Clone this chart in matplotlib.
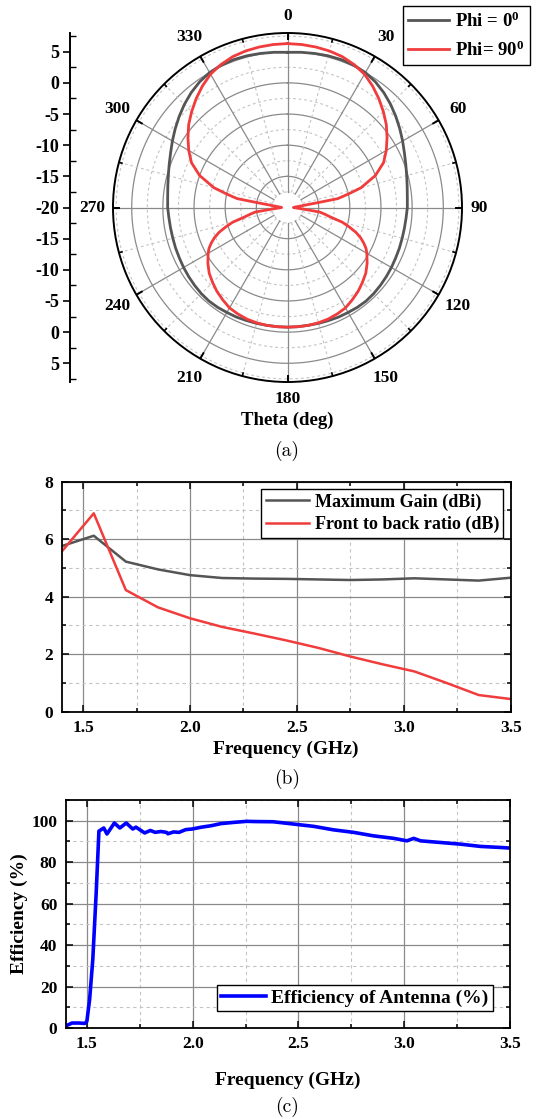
import numpy as np
import matplotlib
matplotlib.use('Agg')
import matplotlib.pyplot as plt
from matplotlib.ticker import MultipleLocator, FixedLocator


# radiation pattern, theta 0..180 deg (the other half is the mirror image)
theta_phi0 = [0, 5, 10, 15, 20, 25, 30, 35, 40, 45, 50, 55, 60, 65, 70, 75, 80, 85,
              90, 95, 100, 105, 110, 115, 120, 125, 130, 135, 140, 145, 150, 155,
              160, 165, 170, 175, 180]
phi0_db = [4.9, 5.0, 5.1, 5.2, 5.25, 5.2, 5.0, 4.6, 4.05, 3.4, 2.7, 2.0, 1.33, 0.7, 0.2,
           -0.2, -0.5, -0.7, -0.77, -0.9, -0.95, -0.95, -0.9, -0.85, -0.75, -0.65,
           -0.55, -0.45, -0.4, -0.45, -0.55, -0.6, -0.7, -0.75, -0.8, -0.8, -0.8]

theta_phi90 = [0, 5, 10, 15, 20, 25, 30, 35, 40, 45, 50, 55, 60, 65, 70, 75, 77.5, 80,
               81, 82.5, 85, 87.5, 90, 92.5, 95, 96.5, 98, 100, 102.5, 105, 107.5, 110,
               112.5, 115, 117.5, 120, 125, 130, 135, 140, 145, 150, 155, 160, 165,
               170, 175, 180]
phi90_db = [6.3, 6.25, 6.15, 6.0, 5.75, 5.3, 4.7, 3.8, 2.8, 1.75, 0.7, -0.5, -1.7, -3.0,
            -5.0, -7.8, -10.0, -11.8, -15.3, -17.3, -18.4, -18.9, -19.05, -18.75, -18.0,
            -17.0, -14.8, -14.0, -12.9, -10.9, -9.6, -8.3, -7.3, -6.5, -5.8, -5.3, -4.4,
            -3.6, -3.0, -2.4, -1.9, -1.4, -1.15, -0.95, -0.85, -0.8, -0.8, -0.8]

# gain and front-to-back ratio vs frequency
freq_b = [1.4, 1.55, 1.7, 1.85, 2.0, 2.15, 2.3, 2.45, 2.6, 2.75, 2.9, 3.05, 3.2, 3.35, 3.5]
max_gain = [5.76, 6.12, 5.22, 4.95, 4.75, 4.65, 4.63, 4.62, 4.6, 4.58, 4.6, 4.64, 4.6,
            4.56, 4.66]
fbr = [5.57, 6.9, 4.23, 3.63, 3.25, 2.95, 2.72, 2.48, 2.22, 1.92, 1.65, 1.4, 1.0, 0.58,
       0.44]

# radiation efficiency vs frequency
freq_c = [1.40, 1.43, 1.465, 1.49, 1.50, 1.513, 1.528, 1.544, 1.557, 1.58, 1.595, 1.63,
          1.656, 1.686, 1.717, 1.732, 1.773, 1.80, 1.823, 1.85, 1.876, 1.883, 1.91,
          1.936, 1.967, 1.997, 2.042, 2.088, 2.133, 2.194, 2.255, 2.30, 2.381, 2.476,
          2.571, 2.666, 2.76, 2.855, 2.95, 3.013, 3.045, 3.077, 3.171, 3.266, 3.361,
          3.456, 3.50]
efficiency = [1.0, 2.4, 2.4, 2.2, 3.2, 13.7, 33, 65, 95, 96.5, 93.6, 98.9, 96.5, 98.9,
              96, 96.9, 94.1, 95.3, 94.4, 94.8, 94.4, 93.7, 94.6, 94.4, 95.7, 96, 96.9,
              97.6, 98.6, 99.2, 99.7, 99.6, 99.5, 98.4, 97.3, 95.6, 94.4, 92.7, 91.5,
              90.3, 91.5, 90.3, 89.5, 88.7, 87.6, 87.1, 86.8]

W, H = 545, 1119
GRID_SOLID = '#8a8a8a'
GRID_DASH = '#c4c4c4'
DARK = '#555555'
RED = '#f03c3c'


def fig_rect(left, top, right, bottom):
    # pixel box -> figure fraction rect
    return [left / W, 1 - bottom / H, (right - left) / W, (bottom - top) / H]


def mirror(theta_deg, r_db):
    th = list(theta_deg)
    r = list(r_db)
    th_full = th + [360 - t for t in th[-2::-1]]
    r_full = r + r[-2::-1]
    return np.deg2rad(th_full), np.array(r_full)


def polar_panel(fig):
    rmin, rmax = -20, 8
    ax = fig.add_axes(fig_rect(113, 33, 462, 382), projection='polar')
    ax.set_theta_zero_location('N')
    ax.set_theta_direction(-1)
    ax.set_rlim(rmin, rmax)
    ax.grid(False)
    ax.set_xticks([])
    ax.set_yticks([])
    ax.spines['polar'].set_linewidth(1.4)

    ring = np.linspace(0, 2 * np.pi, 361)
    for r in np.arange(-17.5, 8, 2.5):
        if r % 5 == 0:
            ax.plot(ring, np.full_like(ring, r), color=GRID_SOLID, lw=0.9, zorder=1)
        else:
            ax.plot(ring, np.full_like(ring, r), color=GRID_DASH, lw=0.8,
                    ls=(0, (2.5, 2.5)), zorder=1)
    for a in range(0, 360, 15):
        t = np.deg2rad(a)
        if a % 30 == 0:
            ax.plot([t, t], [-17.5, rmax], color=GRID_SOLID, lw=0.9, zorder=1)
            ax.plot([t, t], [rmax - 1.0, rmax], color='black', lw=1.4, zorder=3)
            # labels on the axes sit a little closer than the diagonal ones
            if a in (0, 90, 180):
                r_lab = 10.7
            elif a == 270:
                r_lab = 11.4
            else:
                r_lab = 11.6
            ax.text(t, r_lab, str(a), ha='center', va='center', fontsize=12.5,
                    fontweight='bold')
        else:
            ax.plot([t, t], [-17.5, rmax], color=GRID_DASH, lw=0.8,
                    ls=(0, (2.5, 2.5)), zorder=1)
            ax.plot([t, t], [rmax - 0.5, rmax], color='black', lw=1.2, zorder=3)

    th0, r0 = mirror(theta_phi0, phi0_db)
    th90, r90 = mirror(theta_phi90, phi90_db)
    ax.plot(th0, r0, color=DARK, lw=2.0, label='Phi = 0$^{0}$', zorder=4)
    ax.plot(th90, r90, color=RED, lw=2.0, label='Phi= 90$^{0}$', zorder=5)

    leg = fig.legend(loc='upper right', bbox_to_anchor=(530 / W, 1 - 6 / H),
                     frameon=True, fancybox=False, edgecolor='black', framealpha=1,
                     fontsize=13.5, handlelength=2.2, borderpad=0.3, labelspacing=0.5,
                     handletextpad=0.3, borderaxespad=0)
    leg.get_frame().set_linewidth(1.0)

    # linear dB scale next to the polar plot
    axl = fig.add_axes([70 / W, 1 - 382 / H, 0.0001, 349 / H])
    axl.set_ylim(-(rmax - rmin), rmax - rmin)
    for s in ['top', 'right', 'bottom']:
        axl.spines[s].set_visible(False)
    axl.spines['left'].set_linewidth(1.4)
    axl.set_xticks([])
    major = np.arange(-25, 26, 5)
    axl.yaxis.set_major_locator(FixedLocator(major))
    axl.yaxis.set_minor_locator(MultipleLocator(2.5))
    axl.set_yticklabels([str(int(abs(v) + rmin)) for v in major])
    axl.tick_params(axis='y', which='major', direction='out', length=5, width=1.2,
                    labelsize=13, pad=3)
    axl.tick_params(axis='y', which='minor', direction='in', length=4, width=1.0)

    fig.text(287 / W, 1 - 420 / H, 'Theta (deg)', ha='center', va='center',
             fontsize=13.5, fontweight='bold')
    fig.text(287 / W, 1 - 451 / H, '(a)', ha='center', va='center', fontsize=14,
             fontname='cmr10', fontweight='normal')


def style_cartesian(ax, xminor, yminor):
    ax.xaxis.set_minor_locator(MultipleLocator(xminor))
    ax.yaxis.set_minor_locator(MultipleLocator(yminor))
    ax.grid(True, which='major', color=GRID_SOLID, lw=0.9)
    ax.grid(True, which='minor', color=GRID_DASH, lw=0.8, ls=(0, (3, 3)))
    ax.set_axisbelow(True)
    ax.tick_params(which='both', direction='in', top=True, right=True, width=1.1)
    ax.tick_params(which='major', length=5, labelsize=12.5, pad=6)
    ax.tick_params(which='minor', length=3)
    for s in ax.spines.values():
        s.set_linewidth(1.3)


def gain_panel(fig):
    ax = fig.add_axes(fig_rect(61.7, 481.7, 510.7, 711.7))
    ax.plot(freq_b, max_gain, color=DARK, lw=1.8, label='Maximum Gain (dBi)')
    ax.plot(freq_b, fbr, color=RED, lw=1.8, label='Front to back ratio (dB)')
    ax.set_xlim(1.4, 3.5)
    ax.set_ylim(0, 8)
    ax.set_xticks([1.5, 2.0, 2.5, 3.0, 3.5])
    ax.set_xticklabels(['1.5', '2.0', '2.5', '3.0', '3.5'])
    ax.set_yticks([0, 2, 4, 6, 8])
    style_cartesian(ax, 0.25, 1)
    ax.set_xlabel('Frequency (GHz)', fontsize=14, fontweight='bold', labelpad=3)
    leg = ax.legend(loc='upper right', frameon=True, fancybox=False,
                    edgecolor='black', framealpha=1, fontsize=13, handlelength=2.4,
                    borderpad=0.25, labelspacing=0.3, handletextpad=0.3,
                    borderaxespad=0.4)
    leg.get_frame().set_linewidth(1.0)
    fig.text(287 / W, 1 - 779 / H, '(b)', ha='center', va='center', fontsize=14,
             fontname='cmr10', fontweight='normal')


def efficiency_panel(fig):
    ax = fig.add_axes(fig_rect(65.7, 800, 510, 1028))
    ax.plot(freq_c, efficiency, color='#0000ff', lw=2.6,
            label='Efficiency of Antenna (%)')
    ax.set_xlim(1.4, 3.5)
    ax.set_ylim(0, 110)
    ax.set_xticks([1.5, 2.0, 2.5, 3.0, 3.5])
    ax.set_xticklabels(['1.5', '2.0', '2.5', '3.0', '3.5'])
    ax.set_yticks([0, 20, 40, 60, 80, 100])
    style_cartesian(ax, 0.25, 10)
    ax.set_xlabel('Frequency (GHz)', fontsize=14, fontweight='bold', labelpad=14)
    ax.set_ylabel('Efficiency (%)', fontsize=14, fontweight='bold')
    ax.yaxis.set_label_coords(-0.085, 0.5)
    leg = ax.legend(loc='lower right', frameon=True, fancybox=False,
                    edgecolor='black', framealpha=1, fontsize=14, handlelength=2.3,
                    borderpad=0.2, handletextpad=0.3, borderaxespad=0.9)
    leg.get_frame().set_linewidth(1.0)
    fig.text(287 / W, 1 - 1107 / H, '(c)', ha='center', va='center', fontsize=14,
             fontname='cmr10', fontweight='normal')


def main():
    plt.rcParams['font.family'] = 'Liberation Serif'
    plt.rcParams['font.weight'] = 'bold'
    plt.rcParams['axes.unicode_minus'] = False
    plt.rcParams['mathtext.fontset'] = 'custom'
    plt.rcParams['mathtext.rm'] = 'Liberation Serif:bold'
    plt.rcParams['mathtext.it'] = 'Liberation Serif:bold'
    plt.rcParams['mathtext.bf'] = 'Liberation Serif:bold'

    fig = plt.figure(figsize=(W / 100, H / 100), dpi=100)
    polar_panel(fig)
    gain_panel(fig)
    efficiency_panel(fig)
    fig.savefig('out.png', dpi=100)


if __name__ == '__main__':
    main()
